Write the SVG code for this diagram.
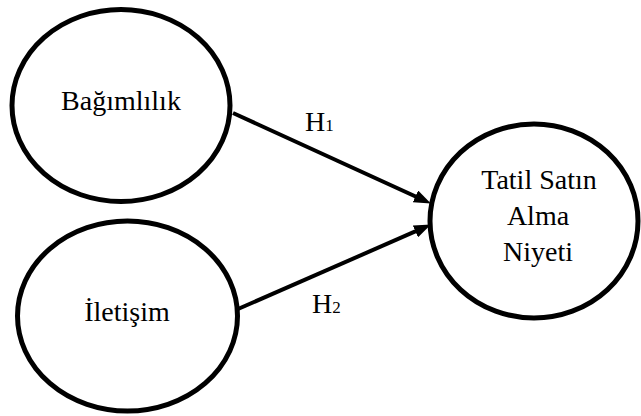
<svg xmlns="http://www.w3.org/2000/svg" width="641" height="416" viewBox="0 0 641 416">
<style>
.node ellipse{fill:#fff;stroke:#000;stroke-width:5}
.conn line{stroke:#000;stroke-width:4}
</style>
<defs>
<marker id="arr" markerUnits="userSpaceOnUse" markerWidth="17" markerHeight="13" refX="8" refY="6.5" orient="auto">
<path d="M0,0 L17,6.5 L0,13 z" fill="#000"/>
</marker>
</defs>
<g font-family="Liberation Serif, DejaVu Serif, serif" font-size="28" fill="#000">
<g class="conn">
<line x1="233" y1="113" x2="422.7" y2="199.7" marker-end="url(#arr)"/>
<line x1="238" y1="309" x2="422.7" y2="228.2" marker-end="url(#arr)"/>
<text x="305" y="131">H<tspan font-size="17">1</tspan></text>
<text x="312" y="313">H<tspan font-size="17">2</tspan></text>
</g>
<g id="bagimlilik" class="node" text-anchor="middle">
<ellipse cx="121" cy="105.5" rx="109" ry="96"/>
<text x="121" y="110">Bağımlılık</text>
</g>
<g id="iletisim" class="node" text-anchor="middle">
<ellipse cx="127.5" cy="316" rx="110" ry="95"/>
<text x="127" y="321">İletişim</text>
</g>
<g id="niyet" class="node" text-anchor="middle">
<ellipse cx="534" cy="221" rx="104" ry="97"/>
<text x="539" y="189">Tatil Satın</text>
<text x="538" y="225">Alma</text>
<text x="538" y="261">Niyeti</text>
</g>
</g>
</svg>
